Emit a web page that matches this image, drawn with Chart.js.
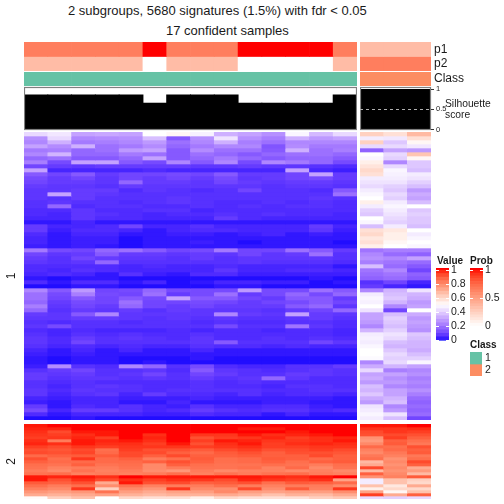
<!DOCTYPE html>
<html>
<head>
<meta charset="utf-8">
<script src="https://cdn.jsdelivr.net/npm/chart.js"></script>
<style>
    html, body { margin: 0; padding: 0; background: #fff; }
    #page { position: relative; width: 504px; height: 504px; overflow: hidden; }
    canvas { position: absolute; }
    .txt { position: absolute; white-space: nowrap; color: #1a1a1a; font-family: "Liberation Sans", sans-serif; transform: translateY(-50%); }
</style>
</head>
<body>
<div id="page"></div>
<script>
// annotation rows, left group then right group
const probP1Left = [.65, .65, .65, .65, .65, 1, .65, .65, .65, 1, 1, 1, 1, .65];
const probP2Left = [.35, .35, .35, .35, .35, 0, .35, .35, .35, 0, 0, 0, 0, .35];
const probP1Right = [.35, .35, .35];
const probP2Right = [.65, .65, .65];
const silhouetteLeft = [.85, .85, .85, .85, .85, .65, .85, .85, .85, .65, .65, .65, .65, .85];
const silhouetteRight = [.99, .99, .99];
const annotationLabels = ["p1", "p2"];
const classLabels = ["1", "2"];
const silhouetteTicks = [0, .5, 1];
const valueTicks = [0, .2, .4, .6, .8, 1];
const probTicks = [0, .5, 1];
const valueLevels = [-.01, 0, .05, .1, .15, .2, .25, .3, .35, .4, .45, .5, .55, .6, .65, .7, .75, .8, .85, .9, .95, 1, 1.03];
const probLevels = [0, .05, .1, .15, .2, .25, .3, .35, .4, .45, .5, .55, .6, .65, .7, .75, .8, .85, .9, .95, 1, 1.04];

// heatmap values in percent, rows top to bottom
const heat1Left = [
    [42,45,30,31,30,50,52,47,33,30,26,48,35,42],
    [26,42,24,25,26,36,14,26,44,26,22,33,28,30],
    [24,33,21,22,24,28,19,24,33,22,19,24,24,24],
    [30,25,33,19,21,25,17,21,24,24,13,25,21,21],
    [21,22,17,19,28,30,14,25,19,19,14,33,19,22],
    [24,34,17,17,21,19,14,19,17,14,17,19,19,17],
    [17,19,14,14,17,30,14,17,21,17,14,17,17,14],
    [22,11,30,30,14,11,24,14,24,11,24,21,17,11],
    [10,8,7,8,8,8,8,7,7,8,7,7,6,5],
    [30,4,4,4,4,5,4,4,4,4,4,30,4,3],
    [14,10,14,8,10,10,11,10,14,8,8,10,30,8],
    [11,8,10,7,10,8,10,8,11,7,8,10,11,8],
    [10,8,8,7,17,8,8,7,10,8,7,8,8,7],
    [8,7,7,6,8,7,7,7,7,7,6,7,7,6],
    [7,7,8,8,5,7,6,5,6,10,6,6,5,14],
    [7,30,8,7,6,6,6,6,6,6,6,6,6,19],
    [7,6,8,6,6,6,7,6,6,6,6,6,7,6],
    [6,7,6,6,5,6,7,6,5,5,6,5,6,5],
    [6,17,5,6,6,5,5,6,5,6,5,6,6,5],
    [5,5,7,5,5,6,6,4,5,5,5,5,5,5],
    [5,4,7,6,5,4,5,5,6,5,6,5,5,4],
    [4,4,7,5,5,4,4,4,8,5,4,4,4,4],
    [2,2,4,2,2,2,2,2,2,2,2,2,2,2],
    [8,4,4,5,10,4,4,6,4,4,4,4,8,4],
    [8,3,5,5,4,2,4,5,5,4,4,4,7,3],
    [5,2,4,4,2,2,3,3,2,3,4,2,3,2],
    [4,2,3,3,1,2,2,2,2,2,2,2,2,2],
    [4,2,3,3,1,2,2,3,2,1,2,2,2,1],
    [3,2,3,2,1,2,2,2,2,2,2,2,2,2],
    [21,11,10,17,19,14,10,11,21,10,10,19,14,8],
    [10,7,8,14,8,8,7,8,7,10,7,8,19,6],
    [8,6,10,8,7,7,6,8,6,7,7,7,7,6],
    [7,6,7,17,6,6,6,6,6,7,6,6,6,5],
    [5,5,5,5,4,5,4,4,5,4,4,4,4,2],
    [5,4,6,5,4,4,4,4,7,4,4,5,5,4],
    [4,5,4,2,6,3,2,5,5,3,3,3,3,3],
    [2,1,2,2,1,1,1,1,1,1,1,1,2,1],
    [5,2,5,5,2,4,1,2,4,4,3,3,1,2],
    [1,1,2,2,1,1,1,1,2,2,1,1,1,1],
    [24,14,28,10,11,17,11,11,11,28,11,11,19,14],
    [19,11,22,11,10,19,8,11,19,8,11,17,11,17],
    [19,10,14,10,14,11,30,14,14,10,8,14,14,8],
    [17,8,11,10,19,10,10,11,10,8,10,11,14,10],
    [22,7,10,8,17,10,8,10,8,8,8,14,17,7],
    [17,6,8,7,8,6,8,7,7,7,6,8,10,17],
    [8,7,14,24,7,7,7,7,24,8,7,30,8,7],
    [7,7,8,8,7,6,7,6,7,6,6,7,8,6],
    [6,5,6,6,5,6,6,5,6,5,5,6,6,5],
    [7,11,6,6,6,6,6,6,11,6,6,20,7,5],
    [5,4,5,4,4,4,5,4,5,5,4,5,5,4],
    [6,4,6,5,6,5,5,6,5,5,5,5,5,4],
    [7,5,8,6,7,6,5,7,5,5,6,5,6,5],
    [7,5,10,6,6,6,6,7,14,6,6,6,10,7],
    [6,4,5,4,5,4,4,6,5,5,4,5,4,4],
    [4,2,4,2,4,2,2,4,2,2,2,2,2,2],
    [3,2,3,2,2,2,2,2,2,2,2,2,2,2],
    [2,1,2,2,1,1,1,2,1,1,1,1,1,1],
    [2,1,2,2,1,2,1,1,1,1,1,1,1,1],
    [3,25,6,5,24,17,6,11,5,4,4,6,6,8],
    [6,8,10,6,6,7,5,14,7,6,5,6,7,6],
    [8,7,8,6,7,10,6,10,8,6,6,8,7,6],
    [8,6,7,7,6,7,6,8,6,7,17,7,5,5],
    [6,5,6,5,5,5,5,6,5,6,5,5,5,5],
    [6,4,6,7,6,5,5,6,5,5,4,6,6,5],
    [7,5,7,6,6,5,6,6,6,6,5,5,6,6],
    [7,4,6,7,4,8,5,5,4,6,4,5,5,4],
    [4,3,4,4,3,3,3,4,3,3,3,3,3,2],
    [3,2,4,4,2,2,4,2,2,2,3,3,2,2],
    [8,2,5,4,6,4,3,6,4,4,5,5,3,2],
    [11,4,8,8,6,4,5,8,6,5,6,6,4,5],
    [5,2,4,4,4,3,3,5,4,4,2,4,2,2],
    [1,1,2,1,1,1,1,1,1,1,1,1,1,1]
];
const heat1Right = [
    [62,58,68],[46,45,58],[62,38,52],[42,42,45],[16,30,28],[50,42,65],[48,40,52],[54,24,38],
    [57,42,38],[60,48,36],[58,47,46],[46,46,44],[44,44,40],[42,40,36],[46,38,28],[48,42,32],
    [50,40,30],[54,46,36],[46,48,50],[40,46,38],[38,44,40],[50,42,38],[48,40,38],[36,46,36],
    [58,56,50],[60,54,46],[56,54,48],[58,52,50],[54,50,48],[20,22,22],[24,18,16],[26,24,30],
    [22,20,18],[36,18,14],[20,24,10],[18,20,16],[16,18,14],[6,10,4],[8,4,2],[24,34,44],
    [46,36,34],[48,38,32],[47,34,28],[50,24,30],[44,10,50],[30,36,32],[30,40,28],[28,38,30],
    [24,36,28],[34,40,26],[46,44,38],[47,42,36],[46,36,34],[48,34,34],[50,38,32],[50,42,36],
    [49,40,40],[24,42,48],[32,34,30],[42,22,24],[30,30,26],[32,26,22],[28,28,24],[36,24,22],
    [34,30,26],[38,30,22],[32,34,18],[28,36,16],[44,24,18],[46,28,16],[48,44,18],[46,36,10]
];
const heat2Left = [
    [99,100,100,100,100,100,100,100,100,100,100,100,100,100],
    [98,98,100,100,100,100,100,100,100,99,99,100,100,100],
    [97,93,99,99,100,100,100,100,100,100,100,99,100,100],
    [96,95,97,99,100,97,100,96,96,99,97,98,99,100],
    [95,96,98,95,100,98,100,92,95,96,98,95,97,98],
    [97,83,99,98,99,97,100,95,99,98,96,96,97,99],
    [98,97,99,97,97,95,99,92,97,99,95,97,98,97],
    [95,93,96,95,96,96,96,95,96,97,95,95,96,96],
    [92,91,93,86,95,92,92,90,93,95,92,93,95,93],
    [93,92,94,87,93,93,89,87,90,92,89,92,92,91],
    [87,89,90,90,93,89,93,89,89,90,89,89,93,89],
    [92,86,96,87,89,83,86,90,86,87,90,89,87,89],
    [89,87,87,87,87,89,92,89,86,87,89,86,89,90],
    [86,85,89,85,86,80,89,86,85,85,86,85,83,86],
    [85,82,83,83,85,80,83,85,85,86,82,87,80,85],
    [83,80,85,82,83,79,77,83,80,82,82,80,82,80],
    [85,86,82,83,82,83,86,82,85,83,85,86,83,82],
    [99,98,99,97,100,99,99,99,99,99,98,97,99,100],
    [99,92,97,93,97,95,97,96,93,98,96,95,97,74],
    [90,89,92,72,99,92,93,89,90,92,86,90,89,87],
    [86,83,86,79,85,82,83,83,86,83,82,83,83,80],
    [82,80,96,62,80,77,96,80,79,93,79,90,82,96],
    [77,75,77,85,75,72,74,75,80,75,74,75,75,79],
    [72,70,72,74,70,68,70,70,72,70,66,70,68,72],
    [51,62,66,50,60,58,58,54,60,58,58,58,62,64]
];
const heat2Right = [
    [99,99,100],[96,96,97],[93,96,95],[92,93,92],[78,95,89],[76,89,86],[80,90,84],[87,86,92],
    [82,87,89],[80,84,90],[84,82,84],[86,78,86],[68,80,93],[72,78,89],[93,80,72],[68,78,76],
    [89,80,68],[78,82,90],[46,66,62],[46,66,60],[66,56,72],[54,60,60],[74,52,66],[95,72,89],[42,40,42]
];
const classColors = ["#66c2a5", "#fc8d62"];

const page = document.getElementById("page");
Chart.defaults.animation = false;
Chart.defaults.font.family = "'Liberation Sans', sans-serif";
Chart.defaults.color = "#1a1a1a";
Chart.defaults.plugins.legend.display = false;
Chart.defaults.plugins.tooltip.enabled = false;

// colours are interpolated in LAB, same as the original ramp
function lab2rgb(L, a, b) {
    let fy = (L + 16) / 116, fx = a / 500 + fy, fz = fy - b / 200;
    let f = t => t > 0.2069 ? t * t * t : (t - 16 / 116) / 7.787;
    let X = .95047 * f(fx), Y = f(fy), Z = 1.08883 * f(fz);
    let lin = [3.2406 * X - 1.5372 * Y - .4986 * Z, -.9689 * X + 1.8758 * Y + .0415 * Z, .0557 * X - .204 * Y + 1.057 * Z];
    let out = lin.map(c => {
        c = Math.max(0, Math.min(1, c));
        return Math.round(255 * (c <= .0031308 ? 12.92 * c : 1.055 * Math.pow(c, 1 / 2.4) - .055));
    });
    return "rgb(" + out.join(",") + ")";
}

function mixLab(from, t) {
    return lab2rgb(100 + (from[0] - 100) * t, from[1] * t, from[2] * t);
}

function valueColor(v) {
    v = Math.max(0, Math.min(1, v));
    if (v < .5) return mixLab([32.3, 79.19, -107.86], (.5 - v) * 2);
    return mixLab([53.24, 80.09, 67.2], (v - .5) * 2);
}

function probColor(v) {
    return mixLab([53.24, 80.09, 67.2], Math.max(0, Math.min(1, v)));
}

function addCanvas(x, y, w, h) {
    let c = document.createElement("canvas");
    c.width = w;
    c.height = h;
    c.style.left = x + "px";
    c.style.top = y + "px";
    c.style.width = w + "px";
    c.style.height = h + "px";
    page.appendChild(c);
    return c;
}

function addText(str, x, y, size, bold) {
    let d = document.createElement("div");
    d.className = "txt";
    d.textContent = str;
    d.style.left = x + "px";
    d.style.top = y + "px";
    d.style.fontSize = size + "px";
    if (bold) d.style.fontWeight = "bold";
    page.appendChild(d);
}

// width is fixed and the label padding dropped, so the plot area stays where it was placed
function fixAxis(width) {
    return s => {
        s.width = width;
        s.paddingTop = 0;
        s.paddingBottom = 0;
    };
}

// stacked bars, one dataset per row, one colour per cell
function cellChart(x, y, w, h, colorRows, yAxis) {
    let n = colorRows.length;
    new Chart(addCanvas(x, y, w, h), {
        type: "bar",
        data: {
            labels: colorRows[0].map((c, i) => i),
            datasets: colorRows.map(row => ({
                data: row.map(() => 1),
                backgroundColor: row,
                barPercentage: 1,
                categoryPercentage: 1
            }))
        },
        options: {
            responsive: false,
            layout: { padding: 0 },
            scales: {
                x: { stacked: true, display: false },
                y: Object.assign({ stacked: true, reverse: true, min: 0, max: n, display: false }, yAxis || {})
            }
        }
    });
}

function labelAxis(labels, width, size) {
    return {
        display: true,
        position: "right",
        grid: { display: false, drawTicks: false },
        border: { display: false },
        afterBuildTicks: s => { s.ticks = labels.map((l, i) => ({ value: i + .5 })); },
        afterFit: fixAxis(width),
        ticks: { autoSkip: false, padding: 3, font: { size: size }, callback: (v, i) => labels[i] }
    };
}

function clusterAxis(text, width) {
    return {
        display: true,
        grid: { display: false },
        border: { display: false },
        ticks: { display: false },
        afterFit: fixAxis(width),
        title: { display: true, text: text, font: { size: 12 }, padding: 4 }
    };
}

const framePlugin = {
    id: "frame",
    afterDatasetsDraw(chart) {
        let a = chart.chartArea;
        chart.ctx.strokeStyle = "#7f7f7f";
        chart.ctx.lineWidth = 1.2;
        chart.ctx.strokeRect(a.left + .5, a.top + .5, a.width - 1, a.height - 1);
    }
};

function silhouetteChart(x, w, values, yAxis) {
    new Chart(addCanvas(x, 83, w, 51), {
        type: "bar",
        data: {
            labels: values.map((v, i) => i),
            datasets: [{ data: values, backgroundColor: "#000", barPercentage: 1, categoryPercentage: 1, inflateAmount: .5 }]
        },
        plugins: [framePlugin],
        options: {
            responsive: false,
            layout: { padding: { top: 4, bottom: 4 } },
            scales: {
                x: { display: false },
                y: Object.assign({ min: -.01, max: 1.05, display: false }, yAxis || {})
            }
        }
    });
}

function rampChart(x, y, w, h, levels, colorFn, ticks, min, max) {
    let steps = levels.slice(1).map((hi, i) => [levels[i], hi]);
    new Chart(addCanvas(x, y, w, h), {
        type: "bar",
        data: {
            labels: ["ramp"],
            datasets: steps.map(s => ({
                data: [s],
                backgroundColor: colorFn((s[0] + s[1]) / 2),
                barPercentage: 1,
                categoryPercentage: 1,
                grouped: false
            }))
        },
        options: {
            responsive: false,
            layout: { padding: { top: 6, bottom: 6 } },
            scales: {
                x: { display: false },
                y: {
                    position: "right",
                    min: min,
                    max: max,
                    grid: { z: 1, color: "#fff", lineWidth: 1, drawTicks: false },
                    border: { display: false, dash: [3, 7] },
                    afterBuildTicks: s => { s.ticks = ticks.map(v => ({ value: v })); },
                    afterFit: fixAxis(w - 13),
                    ticks: { autoSkip: false, padding: 2, font: { size: 10.5 }, callback: v => String(v) }
                }
            }
        }
    });
}

function draw() {
    let pct = rows => rows.map(r => r.map(v => valueColor(v / 100)));

    addText("2 subgroups, 5680 signatures (1.5%) with fdr < 0.05", 68, 10, 13);
    addText("17 confident samples", 166, 29.5, 13);

    // annotation strips
    cellChart(24, 42, 333, 29, [probP1Left.map(probColor), probP2Left.map(probColor)]);
    cellChart(360, 42, 144, 29, [probP1Right.map(probColor), probP2Right.map(probColor)], labelAxis(annotationLabels, 73, 12));
    cellChart(24, 72, 333, 14, [probP1Left.map(() => classColors[0])]);
    cellChart(360, 72, 144, 14, [probP1Right.map(() => classColors[1])], labelAxis(["Class"], 73, 12));

    // silhouette
    silhouetteChart(24, 333, silhouetteLeft);
    silhouetteChart(360, 90, silhouetteRight, {
        display: true,
        position: "right",
        grid: {
            z: 1,
            color: c => c.tick && c.tick.value === .5 ? "#b0b0b0" : "rgba(0,0,0,0)",
            tickColor: "#333",
            tickLength: 3
        },
        border: { display: false, dash: [3, 3] },
        afterBuildTicks: s => { s.ticks = silhouetteTicks.map(v => ({ value: v })); },
        afterFit: fixAxis(19),
        ticks: { autoSkip: false, padding: 2, font: { size: 7.5 }, callback: v => String(v) }
    });
    addText("Silhouette", 445, 103, 10.3);
    addText("score", 445, 114, 10.3);

    // heatmaps
    cellChart(0, 132, 357, 288, pct(heat1Left), clusterAxis("1", 24));
    cellChart(360, 132, 71, 288, pct(heat1Right));
    cellChart(0, 424, 357, 75, pct(heat2Left), clusterAxis("2", 24));
    cellChart(360, 424, 71, 75, pct(heat2Right));

    // legends
    addText("Value", 437, 260, 10, true);
    addText("Prob", 470, 260, 10, true);
    addText("Class", 470, 344, 10, true);
    rampChart(436, 262, 40, 85, valueLevels, valueColor, valueTicks, -.01, 1.03);
    rampChart(470, 262, 34, 70, probLevels, probColor, probTicks, 0, 1.04);
    cellChart(470, 352, 34, 24, [[classColors[0]], [classColors[1]]], labelAxis(classLabels, 22, 10.5));
}

window.addEventListener("DOMContentLoaded", draw);
</script>
</body>
</html>
